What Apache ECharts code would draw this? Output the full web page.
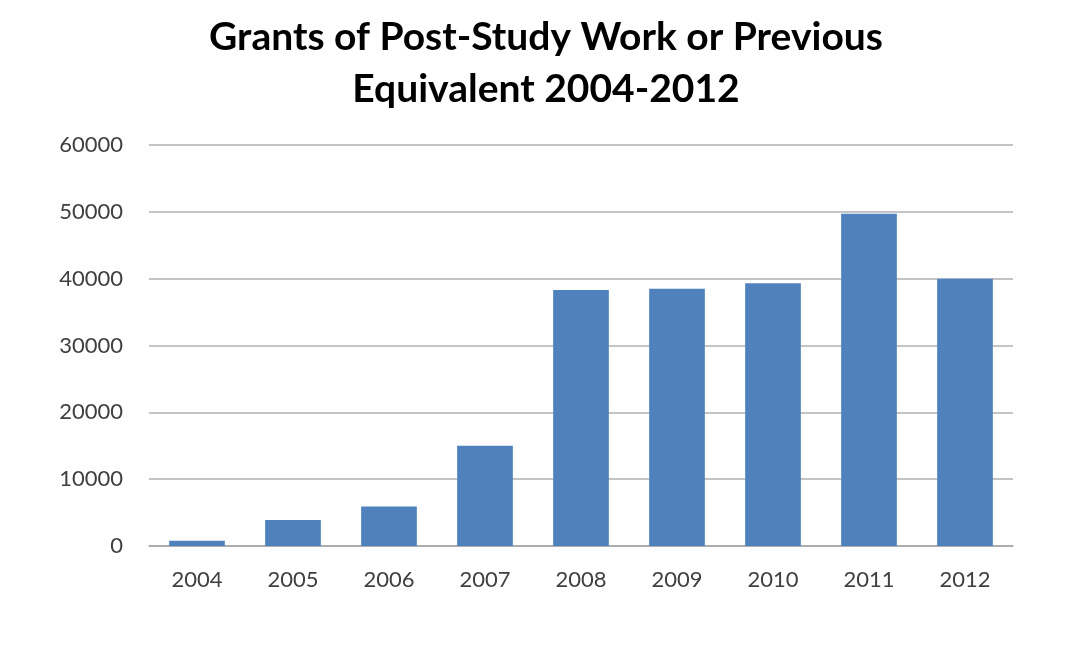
<!DOCTYPE html>
<html>
<head>
<meta charset="utf-8">
<script src="https://cdn.jsdelivr.net/npm/echarts@6/dist/echarts.min.js"></script>
<style>
html,body{margin:0;padding:0;background:#fff;}
#chart{width:1091px;height:648px;}
</style>
</head>
<body>
<div id="chart"></div>
<script>
const titleText = "Grants of Post-Study Work or Previous\nEquivalent 2004-2012";
const categories = ["2004","2005","2006","2007","2008","2009","2010","2011","2012"];
const grants = [800, 3900, 5900, 15000, 38300, 38500, 39300, 49700, 40000];
const yTicks = [0, 10000, 20000, 30000, 40000, 50000, 60000];

const chart = echarts.init(document.getElementById('chart'));
chart.setOption({
  animation: false,
  backgroundColor: '#ffffff',
  title: {
    text: titleText,
    left: 541,
    textAlign: 'center',
    top: 6,
    textStyle: {
      fontFamily: 'Lato, "Open Sans", sans-serif',
      fontWeight: 'bold',
      fontSize: 39,
      lineHeight: 52,
      color: '#000000'
    }
  },
  grid: { left: 149, right: 78, top: 145, bottom: 102 },
  xAxis: {
    type: 'category',
    data: categories,
    axisLine: { lineStyle: { color: '#a6a6a6', width: 1.5 } },
    axisTick: { show: false },
    axisLabel: {
      fontFamily: 'Lato, "Open Sans", sans-serif',
      fontSize: 22,
      color: '#404040',
      margin: 23
    }
  },
  yAxis: {
    type: 'value',
    min: yTicks[0],
    max: yTicks[yTicks.length - 1],
    interval: 10000,
    axisLine: { show: false },
    axisTick: { show: false },
    splitLine: { lineStyle: { color: '#b0b0b0', width: 1.5 } },
    axisLabel: {
      fontFamily: 'Lato, "Open Sans", sans-serif',
      fontSize: 22,
      color: '#404040',
      margin: 26,
      formatter: function (v) { return String(v); }
    }
  },
  series: [{
    type: 'bar',
    data: grants,
    barCategoryGap: '42%',
    itemStyle: { color: '#4f81bd' }
  }]
});
</script>
</body>
</html>
